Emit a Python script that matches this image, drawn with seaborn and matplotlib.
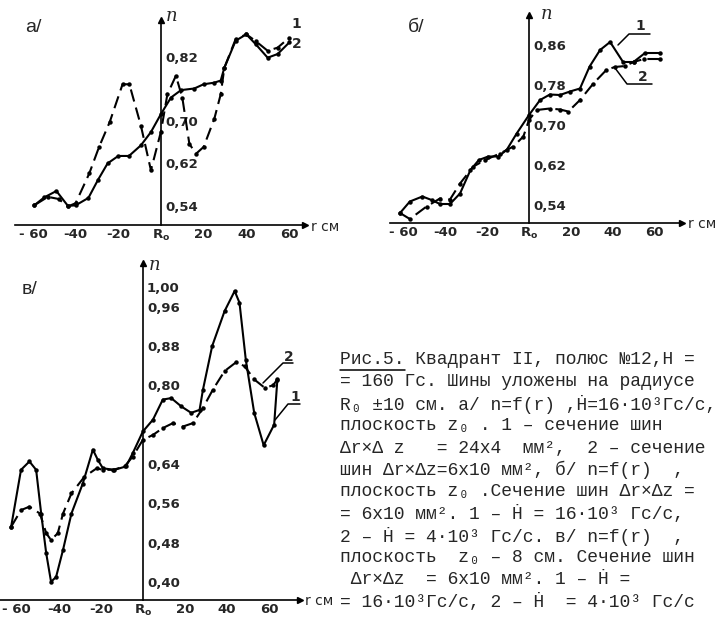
import matplotlib
matplotlib.use("Agg")
import matplotlib.pyplot as plt
from matplotlib.lines import Line2D
import seaborn as sns

# panel a/ : n = f(r), H' = 16e3 Gs/s, plane z0
a_x1 = [-59.4, -54.7, -49, -43.6, -40, -34, -29.5, -25, -20, -15, -9.4, -4.7, 0, 4.7, 9.4,
        15.6, 20, 25, 28, 29.7, 35, 40, 44.5, 50, 54.7, 60.2]
a_y1 = [0.541, 0.556, 0.568, 0.540, 0.541, 0.555, 0.589, 0.620, 0.634, 0.634, 0.654, 0.679,
        0.713, 0.744, 0.758, 0.761, 0.769, 0.772, 0.776, 0.800, 0.851, 0.863, 0.844, 0.819,
        0.826, 0.848]
a_x2 = [-59.4, -53, -48, -43.6, -40, -33.6, -29, -24, -18, -14.8, -9.4, -4.7, 0, 3, 7, 10,
        13.3, 16.4, 20, 25, 28, 29.7, 35, 40, 44.5, 50, 54.7, 60.2]
a_y2 = [0.541, 0.557, 0.553, 0.539, 0.545, 0.601, 0.651, 0.698, 0.769, 0.769, 0.691, 0.607,
        0.680, 0.750, 0.785, 0.744, 0.657, 0.638, 0.651, 0.704, 0.750, 0.800, 0.854, 0.863,
        0.850, 0.832, 0.838, 0.857]

# panel б/
b_x1 = [-61.7, -57, -51, -46.6, -42.6, -37.8, -33, -28, -24, -19.5, -14.7, -10.7, -5.9, 0,
        5.3, 10, 14.8, 19.6, 24.4, 29, 34, 38.8, 45, 50, 55.5, 62.7]
b_y1 = [0.524, 0.547, 0.557, 0.550, 0.542, 0.542, 0.563, 0.610, 0.630, 0.637, 0.637, 0.650,
        0.683, 0.720, 0.750, 0.761, 0.760, 0.767, 0.773, 0.817, 0.850, 0.866, 0.826, 0.826,
        0.844, 0.844]
b_x2 = [-61.7, -57, -49, -42.6, -37.8, -33, -26.6, -21, -13.9, -7.5, -2.7, 0, 3.7, 10, 14.8,
        18.8, 24.4, 30.8, 37, 41, 46, 50, 55, 62.7]
b_y2 = [0.524, 0.512, 0.537, 0.553, 0.551, 0.583, 0.617, 0.630, 0.643, 0.657, 0.677, 0.710,
        0.730, 0.733, 0.731, 0.727, 0.750, 0.783, 0.810, 0.816, 0.818, 0.826, 0.832, 0.832]

# panel в/
v_x1 = [-62.7, -58, -54, -50.8, -48.4, -46, -43.7, -41.3, -38, -34, -28.6, -23.8, -21.4, -19,
        -13.5, -8, -4.8, 0, 4.8, 9.5, 13.5, 18.3, 23, 27, 28.6, 33, 38.9, 43.7, 46, 49, 53,
        57.5, 62.5, 64]
v_y1 = [0.512, 0.628, 0.645, 0.628, 0.539, 0.458, 0.400, 0.410, 0.465, 0.539, 0.600, 0.669,
        0.648, 0.631, 0.628, 0.635, 0.662, 0.706, 0.730, 0.771, 0.774, 0.757, 0.744, 0.750,
        0.791, 0.880, 0.951, 0.992, 0.968, 0.852, 0.744, 0.678, 0.720, 0.810]
v_x2 = [-62.7, -58, -54, -49, -46, -43.7, -40.5, -38, -34, -27.8, -22, -19, -14, -8.7, -4.8,
        0, 4.8, 9.5, 14.3, 19, 23.8, 28.6, 33.3, 38.9, 44.4, 48.4, 53, 58, 62, 64]
v_y2 = [0.512, 0.546, 0.553, 0.539, 0.499, 0.485, 0.499, 0.539, 0.580, 0.614, 0.631, 0.628,
        0.628, 0.635, 0.655, 0.689, 0.699, 0.713, 0.723, 0.716, 0.723, 0.754, 0.791, 0.829,
        0.847, 0.839, 0.812, 0.795, 0.800, 0.812]

x_ticks = [-60, -40, -20, 0, 20, 40, 60]
x_labels = ["- 60", "-40", "-20", "R$_\\mathregular{o}$", "20", "40", "60"]
a_yticks = [0.54, 0.62, 0.70, 0.82]
b_yticks = [0.54, 0.62, 0.70, 0.78, 0.86]
v_yticks = [0.40, 0.48, 0.56, 0.64, 0.80, 0.88, 0.96, 1.00]

caption = [
    "Рис.5. Квадрант II, полюс №12,H =",
    "= 160 Гс. Шины уложены на радиусе",
    "R₀ ±10 см. а/ n=f(r) ,Ḣ=16·10³Гс/с,",
    "плоскость z₀ . 1 – сечение шин",
    "Δr×Δ z   = 24x4  мм²,  2 – сечение",
    "шин Δr×Δz=6x10 мм², б/ n=f(r)  ,",
    "плоскость z₀ .Сечение шин Δr×Δz =",
    "= 6x10 мм². 1 – Ḣ = 16·10³ Гс/с,",
    "2 – Ḣ = 4·10³ Гс/с. в/ n=f(r)  ,",
    "плоскость  z₀ – 8 см. Сечение шин",
    " Δr×Δz  = 6x10 мм². 1 – Ḣ =",
    "= 16·10³Гс/с, 2 – Ḣ  = 4·10³ Гс/с",
]

sns.set_style("white")
W, H = 717, 619
fig = plt.figure(figsize=(W / 100, H / 100), dpi=100)
tick_font = dict(family=["Liberation Sans Narrow", "DejaVu Sans"], weight="bold", size=9.5)


def px_box(x0, x1, top, bottom):
    return [x0 / W, 1 - bottom / H, (x1 - x0) / W, (bottom - top) / H]


def panel(box, xlim, ylim, yticks, curves):
    ax = fig.add_axes(box)
    ax.patch.set_alpha(0)
    for xs, ys, dashed in curves:
        sns.lineplot(x=xs, y=ys, ax=ax, color="black", sort=False, lw=1.5,
                     marker="o", markersize=3.2, markeredgewidth=0)
        if dashed:
            ax.lines[-1].set_dashes([6, 3])
    ax.set_xlim(*xlim)
    ax.set_ylim(*ylim)
    for s in ["top", "right"]:
        ax.spines[s].set_visible(False)
    ax.spines["left"].set_position(("data", 0))
    for s in ["left", "bottom"]:
        ax.spines[s].set_linewidth(1.2)
        ax.spines[s].set_color("black")
    ax.set_xticks(x_ticks)
    ax.set_xticklabels(x_labels, fontdict=tick_font)
    ax.set_yticks(yticks)
    ax.set_yticklabels([f"{t:.2f}".replace(".", ",") for t in yticks], fontdict=tick_font)
    ax.tick_params(axis="x", direction="in", length=4, width=1.2, pad=2)
    ax.tick_params(axis="y", direction="out", length=3, width=1.2, pad=-6)
    for lab in ax.get_yticklabels():
        lab.set_horizontalalignment("left")
    # axis arrows
    ax.plot(1, 0, marker=">", color="black", ms=5, transform=ax.transAxes, clip_on=False)
    ax.plot(0, 1, marker="^", color="black", ms=5,
            transform=ax.get_xaxis_transform(), clip_on=False)
    ax.set_xlabel("")
    ax.set_ylabel("")
    return ax


ax_a = panel(px_box(15, 305, 20, 225), (-68.4, 67.5), (0.504, 0.89), a_yticks,
             [(a_x1, a_y1, False), (a_x2, a_y2, True)])
ax_b = panel(px_box(390, 682, 15, 223), (-66.5, 73.2), (0.504, 0.92), b_yticks,
             [(b_x1, b_y1, False), (b_x2, b_y2, True)])
ax_v = panel(px_box(0, 300, 263, 600), (-68, 74.8), (0.363, 1.049), v_yticks,
             [(v_x1, v_y1, False), (v_x2, v_y2, True)])

label_font = dict(family=["Liberation Sans", "DejaVu Sans"], size=14)
num_font = dict(family=["Liberation Sans Narrow", "DejaVu Sans"], weight="bold", size=10)


def ftext(x, y, s, **kw):
    fig.text(x / W, 1 - y / H, s, va="center", **kw)


# panel letters, axis names
ftext(25, 27, "а/", **label_font)
ftext(408, 27, "б/", **label_font)
ftext(22, 290, "в/", **label_font)
for x, y in [(166, 16), (541, 14), (149, 265)]:
    ftext(x, y, "n", family="DejaVu Serif", style="italic", size=13)
for x, y in [(311, 227), (688, 224), (305, 601)]:
    ftext(x, y, "r см", family=["Liberation Sans Narrow", "DejaVu Sans"], size=10)

# curve numbers with leader lines
ftext(291, 24, "1", **num_font)
ftext(292, 44, "2", **num_font)
ftext(635, 26, "1", **num_font)
ftext(638, 77, "2", **num_font)
ftext(284, 357, "2", **num_font)
ftext(290, 397, "1", **num_font)
leaders = [
    ([618, 629, 650], [45, 34, 34]),
    ([615, 627, 652], [68, 84, 84]),
    ([263, 283, 293], [383, 363, 363]),
    ([275, 288, 300], [420, 404, 404]),
]
for xs, ys in leaders:
    fig.add_artist(Line2D([x / W for x in xs], [1 - y / H for y in ys], color="black", lw=1.1))

# caption
cap_font = dict(family=["Liberation Mono", "DejaVu Sans Mono"], size=13)
for i, line in enumerate(caption):
    ftext(340, 360 + i * 22, line, **cap_font)
fig.add_artist(Line2D([340 / W, 405 / W], [1 - 370 / H] * 2, color="black", lw=1.1))

fig.savefig("out.png", dpi=100)
